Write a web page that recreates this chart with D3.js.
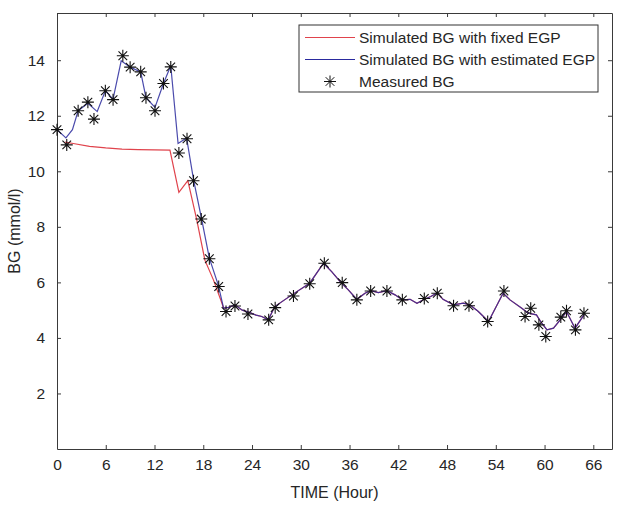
<!DOCTYPE html>
<html lang="en">
<head>
    <meta charset="UTF-8">
    <title>BG simulation</title>
    <script src="https://d3js.org/d3.v7.min.js"></script>
    <style>
        body { margin: 0; background: #fff; }
        text { font-family: Arial, "Liberation Sans", sans-serif; fill: #262626; }
        .axis path, .axis line { stroke: #3a3a3a; }
    </style>
</head>
<body>
    <svg width="623" height="509"></svg>
    <script>
        // Measured BG (stars)
        const measuredTime = [0, 1.2, 2.6, 3.8, 4.55, 5.95, 6.9, 8.1, 9.0, 10.3, 10.95, 12.06, 13.1, 14.0,
            15.0, 16.0, 16.8, 17.75, 18.75, 19.9, 20.8, 21.9, 23.5, 26.05, 26.85, 29.1, 31.1, 32.9,
            35.1, 36.9, 38.6, 40.6, 42.5, 45.2, 46.8, 48.8, 50.7, 53.0, 55.0, 57.6, 58.3, 59.3,
            60.15, 62.0, 62.7, 63.8, 64.85];
        const measuredBG = [11.5, 10.95, 12.18, 12.49, 11.88, 12.9, 12.58, 14.16, 13.75, 13.58, 12.65, 12.18, 13.16, 13.76,
            10.66, 11.17, 9.66, 8.28, 6.85, 5.85, 4.95, 5.15, 4.86, 4.65, 5.09, 5.51, 5.95, 6.69,
            5.99, 5.37, 5.69, 5.69, 5.37, 5.42, 5.61, 5.16, 5.16, 4.59, 5.69, 4.77, 5.07, 4.47,
            4.05, 4.75, 4.98, 4.29, 4.89];

        // Simulated BG with estimated EGP
        const estTime = [0, 1.1, 1.9, 2.6, 3.8, 4.95, 5.95, 6.9, 7.9, 9.0, 10.3, 10.95, 12.06, 13.1, 14.0,
            14.9, 15.95, 16.8, 17.8, 18.75, 19.85, 20.5, 21.1, 21.9, 22.8, 23.75, 24.5, 25.2, 26.0,
            26.8, 28.9, 31.1, 32.8, 33.8, 35.0, 35.85, 36.9, 37.9, 38.6, 39.55, 40.6, 41.6, 42.5,
            43.45, 44.3, 45.2, 46.0, 46.8, 47.5, 48.8, 50.0, 50.8, 51.85, 53.1, 54.9, 55.75, 57.2,
            58.0, 59.0, 59.65, 60.3, 61.1, 62.1, 62.7, 63.75, 64.85];
        const estBG = [11.5, 11.2, 11.5, 12.18, 12.45, 12.15, 12.9, 12.6, 13.98, 13.75, 13.58, 12.65, 12.3, 13.16, 13.8,
            11.0, 11.2, 9.7, 8.28, 6.87, 5.9, 5.07, 5.1, 5.19, 5.0, 4.91, 4.82, 4.77, 4.65,
            5.13, 5.55, 5.97, 6.69, 6.39, 5.97, 5.73, 5.39, 5.61, 5.70, 5.63, 5.70, 5.55, 5.37,
            5.39, 5.25, 5.39, 5.49, 5.63, 5.39, 5.19, 5.25, 5.19, 4.95, 4.59, 5.61, 5.37, 5.07,
            4.89, 4.83, 4.53, 4.29, 4.35, 4.71, 4.95, 4.35, 4.83];

        // Simulated BG with fixed EGP (joins the estimated curve after ~20.5 h)
        const fixedTime = [1.0, 2, 4, 6, 8, 10, 12, 13.9, 15.0, 16.1, 17.2, 18.2, 19.25, 20.3]
            .concat(estTime.slice(21));
        const fixedBG = [11.05, 11.0, 10.9, 10.84, 10.8, 10.78, 10.77, 10.76, 9.24, 9.66, 8.25, 6.8, 6.09, 5.25]
            .concat(estBG.slice(21));

        const xTicks = [0, 6, 12, 18, 24, 30, 36, 42, 48, 54, 60, 66];
        const yTicks = [2, 4, 6, 8, 10, 12, 14];
        const legendLabels = ["Simulated BG with fixed EGP", "Simulated BG with estimated EGP", "Measured BG"];

        const svg = d3.select("svg");
        const margin = {top: 13, right: 11, bottom: 60, left: 57};
        const width = 623 - margin.left - margin.right,
              height = 509 - margin.top - margin.bottom;
        const g = svg.append("g").attr("transform", `translate(${margin.left},${margin.top})`);

        const x = d3.scaleLinear().domain([0, 68.3]).range([0, width]);
        const y = d3.scaleLinear().domain([0, 15.7]).range([height, 0]);

        // axes, MATLAB style box with inward ticks
        g.append("g").attr("class", "axis")
            .attr("transform", `translate(0,${height})`)
            .call(d3.axisBottom(x).tickValues(xTicks).tickSizeInner(-4).tickSizeOuter(0).tickPadding(10))
            .call(a => a.selectAll("text").attr("font-size", 15.5));
        g.append("g").attr("class", "axis")
            .call(d3.axisTop(x).tickValues(xTicks).tickSizeInner(-4).tickSizeOuter(0).tickFormat(""));
        g.append("g").attr("class", "axis")
            .call(d3.axisLeft(y).tickValues(yTicks).tickSizeInner(-4).tickSizeOuter(0).tickPadding(12))
            .call(a => a.selectAll("text").attr("font-size", 15.5));
        g.append("g").attr("class", "axis")
            .attr("transform", `translate(${width},0)`)
            .call(d3.axisRight(y).tickValues(yTicks).tickSizeInner(-4).tickSizeOuter(0).tickFormat(""));
        g.selectAll(".axis text").attr("font-family", null);

        // axis labels
        svg.append("text")
            .attr("x", margin.left + width / 2).attr("y", 498)
            .attr("text-anchor", "middle").attr("font-size", 16)
            .text("TIME (Hour)");
        svg.append("text")
            .attr("transform", `translate(20,${margin.top + height / 2}) rotate(-90)`)
            .attr("text-anchor", "middle").attr("font-size", 16)
            .text("BG (mmol/l)");

        const line = d3.line().x(d => x(d[0])).y(d => y(d[1]));

        g.append("path")
            .datum(d3.zip(fixedTime, fixedBG))
            .attr("fill", "none").attr("stroke", "#e0434c").attr("stroke-width", 1.2)
            .attr("d", line);
        g.append("path")
            .datum(d3.zip(estTime, estBG))
            .attr("fill", "none").attr("stroke", "#2a2a9e").attr("stroke-width", 1.2)
            .attr("stroke-opacity", 0.85)
            .attr("d", line);

        // asterisk marker
        const r = 6, rd = r * 0.72;
        const star = `M${-r},0H${r}M0,${-r}V${r}M${-rd},${-rd}L${rd},${rd}M${-rd},${rd}L${rd},${-rd}`;

        g.selectAll(".star")
            .data(d3.zip(measuredTime, measuredBG))
            .join("path")
            .attr("class", "star")
            .attr("transform", d => `translate(${x(d[0])},${y(d[1])})`)
            .attr("d", star)
            .attr("fill", "none").attr("stroke", "#111").attr("stroke-width", 1.1);

        // legend
        const lg = svg.append("g").attr("transform", "translate(299,25)");
        lg.append("rect").attr("width", 299).attr("height", 67)
            .attr("fill", "#fff").attr("stroke", "#333").attr("stroke-width", 1);
        const rowY = [12.5, 34.5, 56.5];
        lg.append("line").attr("x1", 6).attr("x2", 56).attr("y1", rowY[0]).attr("y2", rowY[0])
            .attr("stroke", "#e0434c").attr("stroke-width", 1.2);
        lg.append("line").attr("x1", 6).attr("x2", 56).attr("y1", rowY[1]).attr("y2", rowY[1])
            .attr("stroke", "#2a2a9e").attr("stroke-width", 1.2);
        lg.append("path").attr("transform", `translate(31,${rowY[2]})`).attr("d", star)
            .attr("fill", "none").attr("stroke", "#111").attr("stroke-width", 1);
        lg.selectAll(".lab")
            .data(legendLabels)
            .join("text")
            .attr("x", 60).attr("y", (d, i) => rowY[i])
            .attr("dy", "0.35em").attr("font-size", 15.5)
            .text(d => d);
    </script>
</body>
</html>
